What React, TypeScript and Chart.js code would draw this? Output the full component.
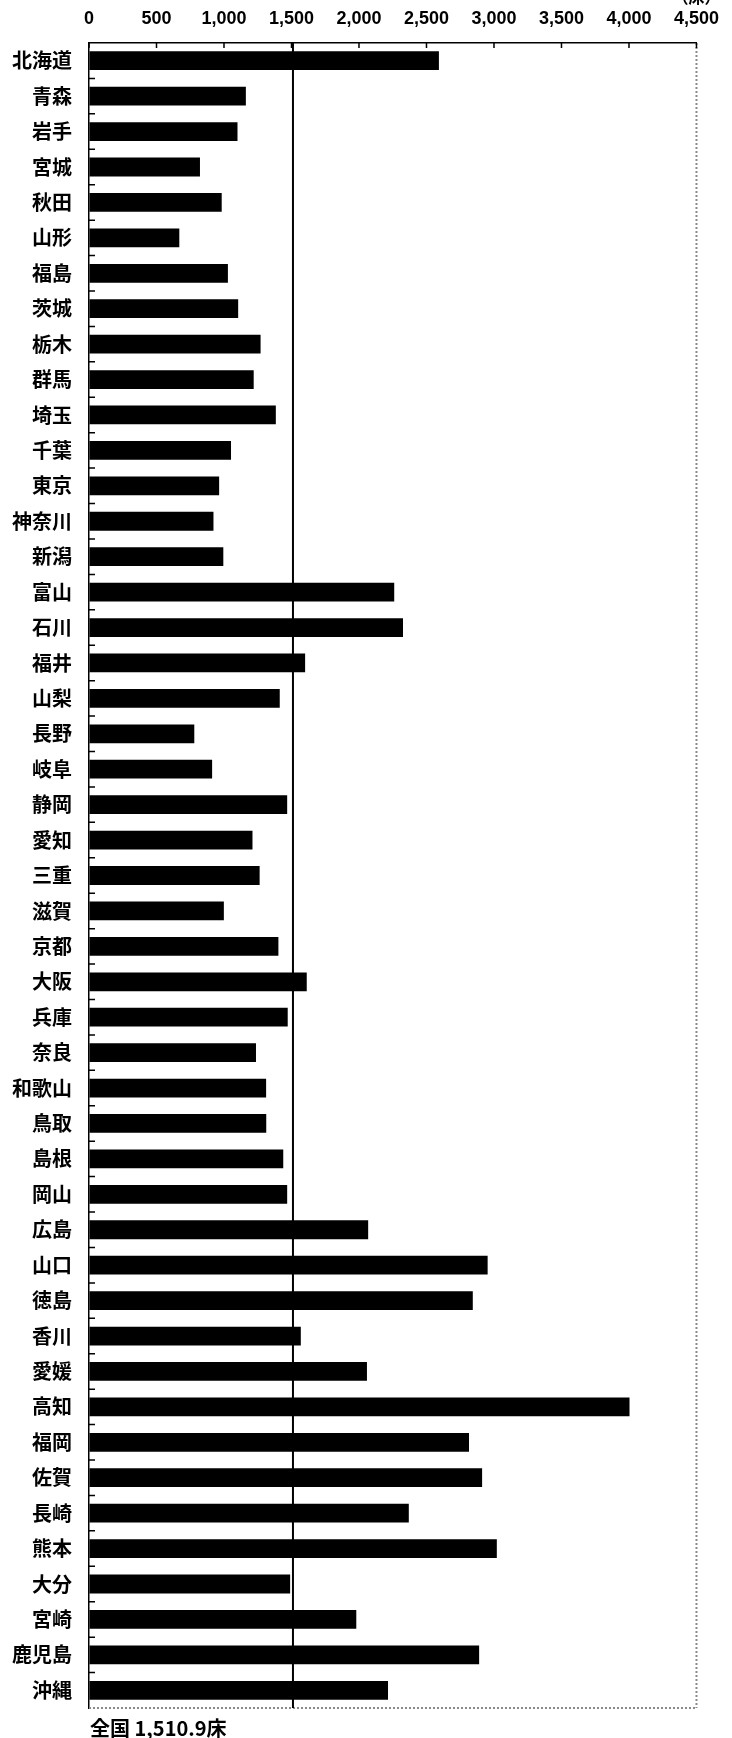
import React, { useEffect, useRef } from "react";
import { Chart, registerables } from "chart.js";

Chart.register(...registerables);

const PREFECTURES = [
  "北海道", "青森", "岩手", "宮城", "秋田", "山形", "福島", "茨城", "栃木", "群馬",
  "埼玉", "千葉", "東京", "神奈川", "新潟", "富山", "石川", "福井", "山梨", "長野",
  "岐阜", "静岡", "愛知", "三重", "滋賀", "京都", "大阪", "兵庫", "奈良", "和歌山",
  "鳥取", "島根", "岡山", "広島", "山口", "徳島", "香川", "愛媛", "高知", "福岡",
  "佐賀", "長崎", "熊本", "大分", "宮崎", "鹿児島", "沖縄",
];

const BEDS = [
  2592, 1162, 1100, 822, 983, 669, 1029, 1105, 1271, 1220,
  1384, 1052, 964, 922, 995, 2261, 2326, 1601, 1413, 780,
  912, 1468, 1211, 1264, 999, 1403, 1613, 1472, 1237, 1312,
  1313, 1439, 1468, 2068, 2953, 2843, 1569, 2059, 4004, 2815,
  2912, 2369, 3021, 1490, 1980, 2890, 2215,
];

const X_MIN = 0;
const X_MAX = 4500;
const X_STEP = 500;
const NATIONAL = 1510.9;
const NATIONAL_LABEL = "全国 1,510.9床";
const UNIT_LABEL = "（床）";

const W = 732;
const H = 1738;

const overlay = {
  id: "overlay",
  afterDraw(chart: any) {
    const { ctx, chartArea } = chart;
    const { left, right, top, bottom } = chartArea;
    const xs = chart.scales.x;
    const ys = chart.scales.y;
    ctx.save();

    // dotted right & bottom frame
    ctx.strokeStyle = "#8a8a8a";
    ctx.lineWidth = 2;
    ctx.setLineDash([2, 2]);
    ctx.beginPath();
    ctx.moveTo(right, top);
    ctx.lineTo(right, bottom);
    ctx.moveTo(left, bottom);
    ctx.lineTo(right, bottom);
    ctx.stroke();
    ctx.setLineDash([]);

    // inward ticks on the top axis
    ctx.strokeStyle = "#000";
    ctx.lineWidth = 1.5;
    ctx.beginPath();
    for (const t of xs.ticks) {
      const px = xs.getPixelForValue(t.value);
      ctx.moveTo(px, top);
      ctx.lineTo(px, top + 5);
    }
    // inward ticks on the left axis at category boundaries
    const n = PREFECTURES.length;
    for (let i = 1; i < n; i++) {
      const py = (ys.getPixelForValue(i - 1) + ys.getPixelForValue(i)) / 2;
      ctx.moveTo(left, py);
      ctx.lineTo(left + 6, py);
    }
    ctx.stroke();

    // national average line
    const nx = xs.getPixelForValue(NATIONAL);
    ctx.strokeStyle = "#000";
    ctx.lineWidth = 2;
    ctx.beginPath();
    ctx.moveTo(nx, top);
    ctx.lineTo(nx, bottom);
    ctx.stroke();

    // footer label
    ctx.fillStyle = "#000";
    ctx.font = 'bold 20px "Liberation Sans Narrow", "Noto Sans CJK JP", sans-serif';
    ctx.textAlign = "left";
    ctx.textBaseline = "middle";
    ctx.fillText(NATIONAL_LABEL, left + 1, bottom + 20);

    // unit label (cut off at top edge)
    ctx.font = 'bold 16px "Noto Sans CJK JP", sans-serif';
    ctx.textAlign = "center";
    ctx.textBaseline = "bottom";
    ctx.fillText(UNIT_LABEL, right, 5);

    ctx.restore();
  },
};

export default function App() {
  const ref = useRef<HTMLCanvasElement | null>(null);

  useEffect(() => {
    if (!ref.current) return;
    const chart = new Chart(ref.current, {
      type: "bar",
      data: {
        labels: PREFECTURES,
        datasets: [
          {
            data: BEDS,
            backgroundColor: "#000",
            borderWidth: 0,
            barPercentage: 0.53,
            categoryPercentage: 1.0,
          },
        ],
      },
      options: {
        indexAxis: "y",
        animation: false,
        responsive: false,
        devicePixelRatio: 1,
        layout: { padding: { top: 0, left: 0, right: 29, bottom: 30 } },
        plugins: {
          legend: { display: false },
          tooltip: { enabled: false },
          title: { display: false },
        },
        scales: {
          x: {
            type: "linear",
            position: "top",
            min: X_MIN,
            max: X_MAX,
            afterFit: (s: any) => {
              s.height = 43;
            },
            ticks: {
              stepSize: X_STEP,
              padding: 13,
              color: "#000",
              font: { family: '"Liberation Sans Narrow", "Liberation Sans", sans-serif', size: 18, weight: "bold" },
              callback: (v: any) => Number(v).toLocaleString("en-US"),
              maxRotation: 0,
              autoSkip: false,
            },
            grid: { drawOnChartArea: false, drawTicks: false },
            border: { display: true, color: "#000", width: 1.5 },
          },
          y: {
            type: "category",
            afterFit: (s: any) => {
              s.width = 89;
            },
            ticks: {
              padding: 17,
              color: "#000",
              autoSkip: false,
              font: { family: '"Noto Sans CJK JP", sans-serif', size: 20, weight: "bold" },
            },
            grid: { drawOnChartArea: false, drawTicks: false },
            border: { display: true, color: "#000", width: 1.5 },
          },
        },
      },
      plugins: [overlay],
    });
    return () => chart.destroy();
  }, []);

  return (
    <div style={{ position: "fixed", top: 0, left: 0, width: W, height: H, background: "#fff" }}>
      <canvas ref={ref} width={W} height={H} style={{ width: W, height: H, display: "block" }} />
    </div>
  );
}
